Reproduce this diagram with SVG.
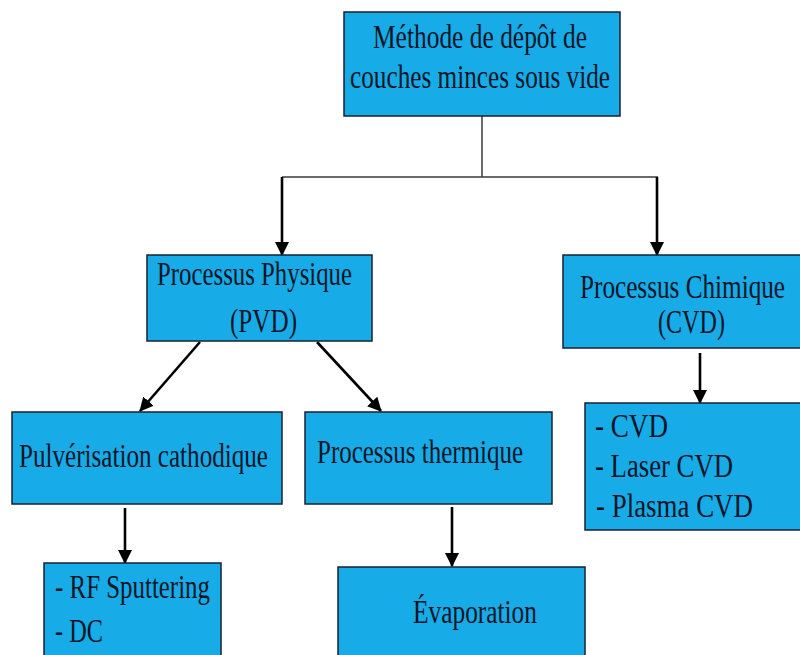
<svg xmlns="http://www.w3.org/2000/svg" width="800" height="655" viewBox="0 0 800 655">
<style>
.box{fill:#17abe8;stroke:#1a2230;stroke-width:1.5}
.t{font-family:"Liberation Serif","Times New Roman",serif;font-size:34px;fill:#0a1626}
.thin{stroke:#3a3a3a;stroke-width:1.5;fill:none}
.arr{stroke:#000;stroke-width:2.6;fill:none;marker-end:url(#ah)}
</style>
<defs>
<marker id="ah" markerUnits="userSpaceOnUse" markerWidth="14" markerHeight="16" viewBox="0 0 14 16" refX="13" refY="7" orient="auto">
<path d="M0,0 L14,7 L0,14 Z" fill="#000"/>
</marker>
</defs>
<rect width="800" height="655" fill="#fff"/>
<g id="connectors">
<line class="thin" x1="482" y1="116" x2="482" y2="177"/>
<line class="thin" x1="282" y1="177" x2="658" y2="177"/>
<line class="arr" x1="282" y1="177" x2="282" y2="255"/>
<line class="arr" x1="657" y1="177" x2="657" y2="255"/>
<line class="arr" x1="200" y1="342" x2="140" y2="411"/>
<line class="arr" x1="317" y1="342" x2="381" y2="411"/>
<line class="arr" x1="700" y1="353" x2="700" y2="403"/>
<line class="arr" x1="125" y1="508" x2="125" y2="563"/>
<line class="arr" x1="452" y1="507" x2="452" y2="566"/>
</g>
<g id="root">
<rect class="box" x="344" y="12" width="276" height="104"/>
<text class="t" x="373" y="48" textLength="214" lengthAdjust="spacingAndGlyphs">Méthode de dépôt de</text>
<text class="t" x="350" y="88" textLength="260" lengthAdjust="spacingAndGlyphs">couches minces sous vide</text>
</g>
<g id="pvd">
<rect class="box" x="147" y="255" width="225" height="86"/>
<text class="t" x="157" y="285" textLength="195" lengthAdjust="spacingAndGlyphs">Processus Physique</text>
<text class="t" x="230" y="332" textLength="67" lengthAdjust="spacingAndGlyphs">(PVD)</text>
</g>
<g id="cvd">
<rect class="box" x="563" y="255" width="240" height="93"/>
<text class="t" x="580" y="298" textLength="205" lengthAdjust="spacingAndGlyphs">Processus Chimique</text>
<text class="t" x="658" y="333" textLength="67" lengthAdjust="spacingAndGlyphs">(CVD)</text>
</g>
<g id="cvd-list">
<rect class="box" x="585" y="403" width="218" height="127"/>
<text class="t" x="595" y="437" textLength="73" lengthAdjust="spacingAndGlyphs">- CVD</text>
<text class="t" x="595" y="477" textLength="138" lengthAdjust="spacingAndGlyphs">-  Laser CVD</text>
<text class="t" x="596" y="517" textLength="157" lengthAdjust="spacingAndGlyphs">-  Plasma CVD</text>
</g>
<g id="pulverisation">
<rect class="box" x="12" y="412" width="270" height="92"/>
<text class="t" x="19" y="467" textLength="249" lengthAdjust="spacingAndGlyphs">Pulvérisation cathodique</text>
</g>
<g id="thermique">
<rect class="box" x="305" y="412" width="247" height="92"/>
<text class="t" x="317" y="463" textLength="206" lengthAdjust="spacingAndGlyphs">Processus thermique</text>
</g>
<g id="sputtering">
<rect class="box" x="44" y="563" width="177" height="100"/>
<text class="t" x="55" y="598" textLength="155" lengthAdjust="spacingAndGlyphs">- RF Sputtering</text>
<text class="t" x="55" y="642" textLength="48" lengthAdjust="spacingAndGlyphs">- DC</text>
</g>
<g id="evaporation">
<rect class="box" x="338" y="567" width="247" height="100"/>
<text class="t" x="413" y="623" textLength="124" lengthAdjust="spacingAndGlyphs">Évaporation</text>
</g>
</svg>
